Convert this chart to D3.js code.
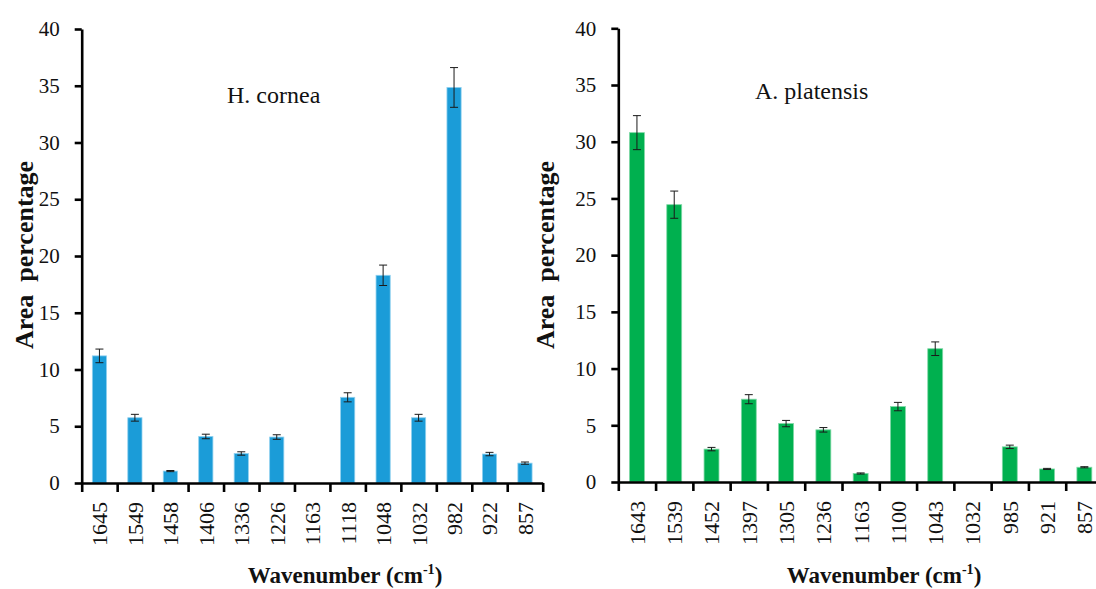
<!DOCTYPE html>
<html>
<head>
<meta charset="utf-8">
<script src="https://cdn.jsdelivr.net/npm/d3@7"></script>
<style>
  html, body { margin: 0; padding: 0; background: #fff; }
  svg { display: block; }
  svg text { font-family: "Liberation Serif", "Times New Roman", serif !important; }
</style>
</head>
<body>
<svg id="chart" width="1096" height="589"></svg>
<script>
// Band assignments (wavenumbers, cm-1) and integrated area percentages
const corneaBands = ["1645", "1549", "1458", "1406", "1336", "1226", "1163", "1118", "1048", "1032", "982", "922", "857"];
const corneaArea  = [11.2, 5.75, 1.05, 4.1, 2.6, 4.05, 0, 7.55, 18.3, 5.75, 34.85, 2.55, 1.75];
const corneaErr   = [0.6, 0.3, 0.05, 0.2, 0.15, 0.2, 0, 0.4, 0.9, 0.3, 1.75, 0.15, 0.1];

const platensisBands = ["1643", "1539", "1452", "1397", "1305", "1236", "1163", "1100", "1043", "1032", "985", "921", "857"];
const platensisArea  = [30.8, 24.45, 2.9, 7.3, 5.15, 4.6, 0.75, 6.65, 11.75, 0, 3.1, 1.15, 1.3];
const platensisErr   = [1.5, 1.2, 0.15, 0.4, 0.28, 0.2, 0.05, 0.37, 0.6, 0, 0.15, 0.05, 0.05];

const yTickValues = [0, 5, 10, 15, 20, 25, 30, 35, 40];

const svg = d3.select("#chart");

function drawPanel(opts) {
  const { bands, area, err, color, edge, x0, x1, yBase, yTop, title, titleX, titleY, yTitleX, yTitleY, xTitleX } = opts;
  const g = svg.append("g");
  const data = bands.map((b, i) => ({ band: b, value: area[i], err: err[i] }));

  const x = d3.scaleBand().domain(bands).range([x0, x1]).paddingInner(0.6).paddingOuter(0.3);
  const y = d3.scaleLinear().domain([0, 40]).range([yBase, yTop]);
  const edges = d3.scaleLinear().domain([0, bands.length]).range([x0, x1]);

  // bars
  g.selectAll("rect.bar").data(data).join("rect")
    .attr("class", "bar")
    .attr("x", d => x(d.band))
    .attr("width", x.bandwidth())
    .attr("y", d => y(d.value))
    .attr("height", d => y(0) - y(d.value))
    .attr("fill", color)
    .attr("stroke", edge)
    .attr("stroke-width", 0.8);

  // error bars
  const eb = g.selectAll("g.err").data(data.filter(d => d.value > 0)).join("g").attr("class", "err")
    .attr("stroke", "#1a1a1a").attr("stroke-width", 1);
  const cx = d => x(d.band) + x.bandwidth() / 2;
  eb.append("line").attr("x1", cx).attr("x2", cx)
    .attr("y1", d => y(d.value + d.err)).attr("y2", d => y(d.value - d.err));
  eb.append("line").attr("x1", d => cx(d) - 4).attr("x2", d => cx(d) + 4)
    .attr("y1", d => y(d.value + d.err)).attr("y2", d => y(d.value + d.err));
  eb.append("line").attr("x1", d => cx(d) - 4).attr("x2", d => cx(d) + 4)
    .attr("y1", d => y(d.value - d.err)).attr("y2", d => y(d.value - d.err));

  // y axis
  const ya = g.append("g").attr("transform", `translate(${x0},0)`)
    .call(d3.axisLeft(y).tickValues(yTickValues).tickSize(7).tickSizeOuter(0).tickPadding(15));
  ya.select(".domain").attr("stroke", "#000").attr("stroke-width", 2.6);
  ya.selectAll(".tick line").attr("stroke", "#000").attr("stroke-width", 2.6);
  ya.selectAll(".tick text").attr("font-size", 21).attr("fill", "#111");

  // x axis: tick marks at category boundaries
  const xe = g.append("g").attr("transform", `translate(0,${yBase})`)
    .call(d3.axisBottom(edges).tickValues(d3.range(bands.length + 1)).tickFormat("").tickSize(9).tickSizeOuter(0));
  xe.select(".domain").attr("stroke", "#000").attr("stroke-width", 2.6);
  xe.selectAll(".tick line").attr("stroke", "#000").attr("stroke-width", 2.6);

  // x axis: rotated category labels
  const xl = g.append("g").attr("transform", `translate(0,${yBase})`)
    .call(d3.axisBottom(x).tickSize(0));
  xl.select(".domain").remove();
  xl.selectAll(".tick text")
    .attr("transform", "rotate(-90)")
    .attr("x", -19).attr("y", 0).attr("dy", "0.36em")
    .style("text-anchor", "end")
    .attr("font-size", 22).attr("fill", "#111");

  // panel title
  g.append("text").attr("x", titleX).attr("y", titleY)
    .attr("font-size", 24).attr("fill", "#111").text(title);

  // axis titles
  g.append("text")
    .attr("transform", `translate(${yTitleX},${yTitleY}) rotate(-90)`)
    .attr("text-anchor", "middle").attr("font-size", 26).attr("font-weight", "bold")
    .attr("fill", "#111")
    .style("white-space", "pre")
    .text("Area  percentage");

  const xt = g.append("text").attr("x", xTitleX).attr("y", 583)
    .attr("text-anchor", "middle").attr("font-size", 23).attr("font-weight", "bold").attr("fill", "#111");
  xt.append("tspan").text("Wavenumber (cm");
  xt.append("tspan").attr("font-size", 14).attr("dy", -9).text("-1");
  xt.append("tspan").attr("dy", 9).text(")");
}

drawPanel({
  bands: corneaBands, area: corneaArea, err: corneaErr,
  color: "#1b9cd8", edge: "#8fd0ef",
  x0: 81.7, x1: 542.7, yBase: 483, yTop: 29,
  title: "H. cornea", titleX: 227, titleY: 103,
  yTitleX: 33, yTitleY: 255, xTitleX: 345
});

drawPanel({
  bands: platensisBands, area: platensisArea, err: platensisErr,
  color: "#00b04f", edge: "#7fd8a6",
  x0: 618.3, x1: 1103, yBase: 482, yTop: 28.3,
  title: "A. platensis", titleX: 755, titleY: 99,
  yTitleX: 554, yTitleY: 255, xTitleX: 884
});
</script>
</body>
</html>
